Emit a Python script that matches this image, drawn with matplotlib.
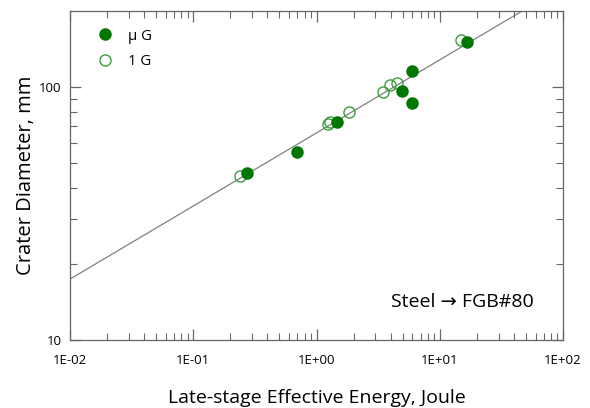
import matplotlib
matplotlib.use("Agg")
import matplotlib.pyplot as plt
import numpy as np
from matplotlib.ticker import LogLocator, FixedLocator, NullFormatter

plt.rcParams['font.family'] = ['Open Sans', 'DejaVu Sans']

# Data (energy in Joule, crater diameter in mm)
ug_energy = [0.273, 0.695, 1.47, 4.94, 5.96, 5.96, 16.6]
ug_diam = [45.6, 55.2, 72.6, 96.4, 86.5, 115.6, 151]
g1_energy = [0.239, 1.23, 1.29, 1.84, 3.44, 3.94, 4.48, 14.9]
g1_diam = [44.4, 71.8, 72.5, 79.4, 95.7, 101.9, 103.7, 153.9]

# Power-law fit D = a * E^b
fit_a = 65.9
fit_b = 0.289

xticks = [1e-2, 1e-1, 1e0, 1e1, 1e2]
xtick_labels = ['1E-02', '1E-01', '1E+00', '1E+01', '1E+02']
yticks = [10, 100]
ytick_labels = ['10', '100']

fig = plt.figure(figsize=(5.9, 4.08), dpi=100)
ax = fig.add_axes([70/590, 1-340/408, 493/590, 329/408])

ex = np.logspace(-2, 2, 200)
ax.plot(ex, fit_a * ex**fit_b, color='#808080', lw=0.9, zorder=1)

green = '#007700'
ax.plot(ug_energy, ug_diam, 'o', ms=8, color=green, mec=green, zorder=3, label='\u03bc G')
ax.plot(g1_energy, g1_diam, 'o', ms=8, mfc='none', mec='#3c9c3c', mew=1.0, zorder=2, label='1 G')

ax.set_xscale('log')
ax.set_yscale('log')
ax.set_xlim(1e-2, 1e2)
ax.set_ylim(10, 200)

ax.xaxis.set_major_locator(FixedLocator(xticks))
ax.set_xticklabels(xtick_labels)
ax.yaxis.set_major_locator(FixedLocator(yticks))
ax.set_yticklabels(ytick_labels)
ax.xaxis.set_minor_locator(LogLocator(base=10, subs=np.arange(2, 10)))
ax.yaxis.set_minor_locator(LogLocator(base=10, subs=np.arange(2, 10)))
ax.xaxis.set_minor_formatter(NullFormatter())
ax.yaxis.set_minor_formatter(NullFormatter())

for s in ax.spines.values():
    s.set_color('#666666')
    s.set_linewidth(0.9)
ax.tick_params(which='both', direction='in', top=True, right=True, colors='#666666', labelcolor='black', labelsize=9.5)
ax.tick_params(which='major', length=8, width=0.9)
ax.tick_params(axis='x', which='major', pad=10)
ax.tick_params(axis='y', which='major', pad=6)
ax.tick_params(which='minor', length=5, width=0.8)

ax.set_xlabel('Late-stage Effective Energy, Joule', fontsize=14, labelpad=16)
ax.set_ylabel('Crater Diameter, mm', fontsize=14.5, labelpad=2)

ax.text(0.94, 0.1155, 'Steel \u2192 FGB#80', transform=ax.transAxes, ha='right', va='center', fontsize=14)

leg = ax.legend(loc='upper left', frameon=False, fontsize=10.8, handletextpad=0.78,
                borderaxespad=0, bbox_to_anchor=(0.036, 0.965), labelspacing=0.73, handlelength=1.5)

fig.savefig('out.png', dpi=100)
